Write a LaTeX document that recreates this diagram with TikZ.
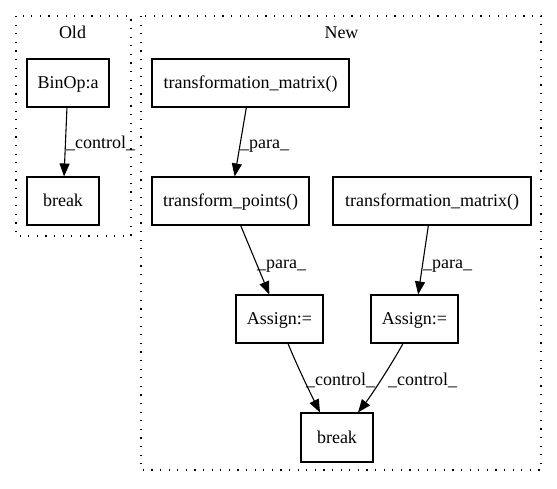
\documentclass[tikz,border=0pt]{standalone}
\usepackage{fontspec}
\setmainfont{Liberation Serif}
\usetikzlibrary{arrows.meta}
\tikzset{
  x=1pt, y=-1pt,
  fnt/.style={font=\fontsize{18}{21}\selectfont},
  box/.style={draw, line width=1.1pt, inner sep=0pt, minimum height=48pt, text height=12pt, text depth=1pt, fnt},
  lbl/.style={inner sep=0pt, anchor=west, text height=13pt, text depth=4pt, fnt},
  ttl/.style={inner sep=0pt, text height=13pt, text depth=4pt, fnt},
  cluster/.style={line width=1.2pt, dash pattern=on 1.2pt off 7.4pt},
  conn/.style={line width=1.1pt, -{Triangle[length=13pt,width=10pt]}}
}
\begin{document}
\begin{tikzpicture}
\useasboundingbox (0,0) rectangle (557,488);
% clusters
\draw[cluster] (16,16) rectangle (131,236);
\draw[cluster] (141,16) rectangle (541,470);
\node[ttl] (told) at (72.5,33.5) {Old};
\node[ttl] (tnew) at (341.5,33.5) {New};
% nodes
\node[box, minimum width=82pt] (binop) at (68,83) {BinOp:a};
\node[box, minimum width=72pt] (brko) at (63,201) {break};
\node[box, minimum width=197pt] (tm1) at (250.5,83) {transformation\_matrix()};
\node[box, minimum width=157pt] (tp) at (230.5,201) {transform\_points()};
\node[box, minimum width=198pt] (tm2) at (432,201) {transformation\_matrix()};
\node[box, minimum width=87pt] (a1) at (279.5,319) {Assign:=};
\node[box, minimum width=87pt] (a2) at (414.5,319) {Assign:=};
\node[box, minimum width=72pt, minimum height=49pt] (brkn) at (337,437.5) {break};
% edges
\draw[conn] (binop) -- (brko);
\draw[conn] (tm1) -- (tp);
\draw[conn] (tp) -- (a1);
\draw[conn] (tm2) -- (a2);
\draw[conn] ([xshift=8.5pt]a1.south) .. controls +(9,22) and +(-10,-20) .. ([xshift=-17pt]brkn.north);
\draw[conn] ([xshift=-11.5pt]a2.south) .. controls +(-11,20) and +(14,-18) .. ([xshift=21pt]brkn.north);
% labels
\node[lbl] (l0) at (66,143.5) {\_control\_};
\node[lbl] (l1) at (240,143.5) {\_para\_};
\node[lbl] (l2) at (257,263.5) {\_para\_};
\node[lbl] (l3) at (423,263.5) {\_para\_};
\node[lbl] (l4) at (306,380.5) {\_control\_};
\node[lbl] (l5) at (388,380.5) {\_control\_};
\end{tikzpicture}
\end{document}
